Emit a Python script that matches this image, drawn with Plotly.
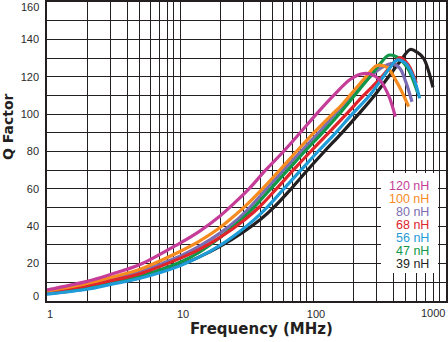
import plotly.graph_objects as go

# ---------------- data ----------------
freq_120 = [1, 2, 3, 5, 10, 14, 20, 25, 33, 44, 60, 80, 106, 143, 190, 230, 270, 320, 370, 416]
q_120 = [5.9, 10.5, 14.2, 19.5, 31, 37.3, 45.5, 51.7, 60, 70, 80, 90, 100, 110, 118.5, 121.5, 121.5, 118, 110, 98.6]

freq_100 = [1, 2, 3, 5, 10, 14, 20, 24.6, 31.5, 42, 57, 76, 103, 141, 160, 200, 250, 303, 360, 428, 480, 524]
q_100 = [5.3, 9.4, 12.6, 17, 26.5, 32, 39.3, 44.5, 51.3, 60.3, 70.5, 80.4, 90.5, 100.3, 104, 112, 120, 126, 125, 117, 110, 104]

freq_80 = [1, 2, 3, 5, 10, 14, 20, 27, 33.4, 44.7, 60, 81, 110, 146, 200, 260, 330, 393, 450, 500, 555]
q_80 = [5.0, 8.8, 11.7, 15.8, 24, 29.3, 36.3, 43.6, 50, 60, 70, 80, 90, 100, 110, 119, 125, 127, 124.5, 117, 106.6]

freq_68 = [1, 2, 3, 5, 10, 14, 20, 31, 39.5, 53, 71, 96, 131, 178, 240, 320, 400, 453, 520, 598]
q_68 = [5.0, 8.2, 10.8, 14.6, 22.8, 27.6, 34, 43.8, 50.3, 60, 70, 80, 90, 100, 110, 119, 127, 130.3, 126.5, 116.7]

freq_56 = [1, 2, 3, 5, 10, 14, 20, 28, 35.8, 45, 60.3, 81, 109, 148, 197, 266, 330, 380, 428, 490, 560, 634]
q_56 = [3.7, 6.3, 8.9, 12.2, 18.9, 23.6, 29.8, 37.1, 43.3, 50, 60, 70, 80, 90, 100, 110, 119, 125, 128.9, 127.5, 121, 108.4]

freq_47 = [1, 2, 3, 5, 10, 14, 20, 29.2, 35.8, 48, 64.5, 86.6, 117.5, 157, 200, 260, 320, 370, 430, 510, 560, 612]
q_47 = [4.3, 7.2, 9.7, 13.3, 20.7, 26.2, 34, 43.8, 50, 60, 70, 80, 90, 100, 109, 119, 127, 131.5, 130.5, 125, 119, 111.4]

freq_39 = [1, 2, 3, 5, 10, 14, 20, 30, 40.2, 50.3, 67.4, 90.7, 121.7, 165, 220, 290, 370, 450, 539, 610, 679, 736, 798]
q_39 = [3.9, 6.6, 9.2, 12.5, 19.2, 23.6, 29.2, 37, 43.6, 49.8, 59.5, 70, 80, 90, 100, 110, 120, 128, 134.6, 133, 129.8, 123.5, 114.3]

series_labels = ["120 nH", "100 nH", "80 nH", "68 nH", "56 nH", "47 nH", "39 nH"]

x_decades = [1, 10, 100, 1000]
x_tick_labels = ["1", "10", "100", "1000"]
y_ticks = [0, 20, 40, 60, 80, 100, 120, 140, 160]
y_tick_labels = ["0", "20", "40", "60", "80", "100", "120", "140", "160"]

x_title = "Frequency (MHz)"
y_title = "Q Factor"

# ---------------- styling ----------------
colors = {
    "120 nH": "#c53d98",
    "100 nH": "#f68b1f",
    "80 nH": "#7a6db3",
    "68 nH": "#e0242b",
    "56 nH": "#1f9bd7",
    "47 nH": "#129748",
    "39 nH": "#231f20",
}
data = {
    "120 nH": (freq_120, q_120),
    "100 nH": (freq_100, q_100),
    "80 nH": (freq_80, q_80),
    "68 nH": (freq_68, q_68),
    "56 nH": (freq_56, q_56),
    "47 nH": (freq_47, q_47),
    "39 nH": (freq_39, q_39),
}
draw_order = ["39 nH", "80 nH", "47 nH", "68 nH", "100 nH", "56 nH", "120 nH"]

GRID = "#231f20"
TICKFONT = dict(family="Liberation Sans, Arial, sans-serif", size=11, color="#2b2b2b")
TITLEFONT = dict(family="DejaVu Sans, sans-serif", size=15, color="#231f20")

# plot area in pixels
L, R, T, B = 47, 446, 2, 301
W, H = R - L, B - T


def px_x(p):
    return (p - L) / W


def px_y(p):
    return (B - p) / H


fig = go.Figure()
for name in draw_order:
    f, q = data[name]
    fig.add_trace(go.Scatter(
        x=f, y=q, mode="lines", name=name,
        line=dict(color=colors[name], width=3.2, shape="spline", smoothing=1.0),
        showlegend=False, hoverinfo="skip",
    ))

# tick values: every 1..9 per decade for the grid
x_vals = []
for d in x_decades[:-1]:
    x_vals += [d * k for k in range(1, 10)]
x_vals.append(x_decades[-1])
x_text = []
for v in x_vals:
    if v in x_decades[:-1]:
        x_text.append(x_tick_labels[x_decades.index(v)])
    else:
        x_text.append("")

y_vals = list(range(0, 161, 10))
y_text = []
for v in y_vals:
    if v in y_ticks and v not in (y_ticks[0], y_ticks[-1]):
        y_text.append(y_tick_labels[y_ticks.index(v)])
    else:
        y_text.append("")

annotations = []
# edge labels placed inward like the reference
annotations.append(dict(text=y_tick_labels[-1], x=px_x(41), y=px_y(7), xref="paper", yref="paper",
                        xanchor="right", yanchor="middle", showarrow=False, font=TICKFONT))
annotations.append(dict(text=y_tick_labels[0], x=px_x(41), y=px_y(296), xref="paper", yref="paper",
                        xanchor="right", yanchor="middle", showarrow=False, font=TICKFONT))
annotations.append(dict(text=x_tick_labels[-1], x=px_x(433), y=px_y(305), xref="paper", yref="paper",
                        xanchor="center", yanchor="top", showarrow=False, font=TICKFONT))
# axis titles
annotations.append(dict(text="<b>%s</b>" % x_title, x=px_x(261), y=px_y(329), xref="paper", yref="paper",
                        xanchor="center", yanchor="middle", showarrow=False, font=TITLEFONT))
annotations.append(dict(text="<b>%s</b>" % y_title, x=px_x(8), y=px_y(127), xref="paper", yref="paper",
                        xanchor="center", yanchor="middle", textangle=-90, showarrow=False,
                        font=dict(TITLEFONT, size=14)))
# legend texts
for i, name in enumerate(series_labels):
    annotations.append(dict(text=name, x=px_x(431), y=px_y(186 + 13.05 * i), xref="paper", yref="paper",
                            xanchor="right", yanchor="middle", showarrow=False,
                            font=dict(family="Liberation Sans, Arial, sans-serif", size=12.5,
                                      color=colors[name])))

shapes = [dict(type="rect", xref="paper", yref="paper",
               x0=px_x(381), x1=px_x(438), y0=px_y(273), y1=px_y(173),
               fillcolor="white", line=dict(width=0), layer="above")]

fig.update_layout(
    width=448, height=342,
    margin=dict(l=L, r=448 - R, t=T, b=342 - B, autoexpand=False),
    paper_bgcolor="white", plot_bgcolor="white",
    xaxis=dict(type="log", range=[0, 3], tickmode="array", tickvals=x_vals, ticktext=x_text,
               showgrid=True, gridcolor=GRID, gridwidth=1.2, showline=True, linecolor=GRID,
               linewidth=1.5, mirror=True, ticks="", tickfont=TICKFONT, zeroline=False,
               ticklabelshift=3, ticklabelstandoff=2),
    yaxis=dict(range=[0, 160], tickmode="array", tickvals=y_vals, ticktext=y_text,
               showgrid=True, gridcolor=GRID, gridwidth=1.2, showline=True, linecolor=GRID,
               linewidth=1.5, mirror=True, ticks="", tickfont=TICKFONT, zeroline=False,
               ticklabelstandoff=4),
    annotations=annotations,
    shapes=shapes,
    showlegend=False,
)

fig.write_html("out.html")
